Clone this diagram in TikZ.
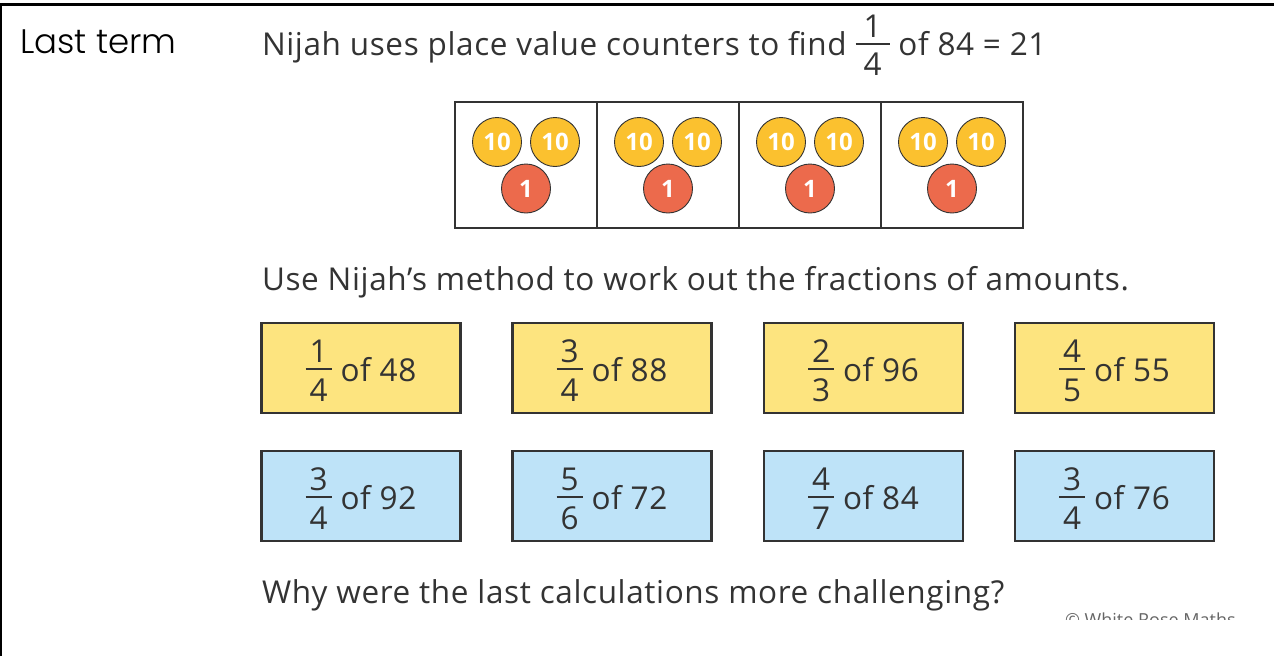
\documentclass[tikz,border=0pt]{standalone}
\usepackage{fontspec}
\setmainfont{Open Sans}[LetterSpace=2]
\IfFontExistsTF{Poppins Light}{\newfontfamily\handfont{Poppins Light}}{\newfontfamily\handfont{Poppins}}
\newfontfamily\plainfont{Open Sans}
\definecolor{txt}{HTML}{333333}
\definecolor{bline}{HTML}{333333}
\definecolor{cyel}{HTML}{FBC12F}
\definecolor{cred}{HTML}{EC6A4C}
\definecolor{byel}{HTML}{FDE47F}
\definecolor{bblue}{HTML}{BEE3F8}
% #1 padding, #2 numerator raise, #3 denominator lower, #4 bar raise, #5 num, #6 den
\newcommand\frg[6]{\begingroup
  \setbox0\hbox{#5}\setbox2\hbox{#6}%
  \dimen0=\wd0 \ifdim\wd2>\dimen0 \dimen0=\wd2\fi
  \advance\dimen0 by #1%
  \hbox to\dimen0{%
    \rlap{\hbox to\dimen0{\hss\raise #2\box0\hss}}%
    \rlap{\hbox to\dimen0{\hss\lower #3\box2\hss}}%
    \rlap{\raise #4\hbox{\vrule width\dimen0 height 2pt depth 0pt}}%
    \hss}%
  \endgroup}
\newcommand\fr[2]{\frg{8pt}{19.7pt}{19.3pt}{11.7pt}{#1}{#2}}
\begin{document}
\begin{tikzpicture}[x=1pt,y=-1pt,
  every node/.style={inner sep=0pt, outer sep=0pt, text=txt},
  main/.style={anchor=base west, font=\fontsize{31.5}{36}\selectfont},
  ten/.style={circle, draw=bline, line width=0.9pt, fill=cyel, minimum size=49pt,
    text=white, font=\plainfont\fontsize{24}{24}\bfseries\selectfont},
  one/.style={ten, fill=cred},
  cellbox/.style={draw=bline, line width=2.5pt, minimum width=142pt, minimum height=126pt},
  qbox/.style={draw=bline, line width=2.5pt, minimum width=199pt, minimum height=90pt,
    text height=47.4pt, text depth=20pt, font=\fontsize{31.5}{36}\selectfont},
  ybox/.style={qbox, fill=byel},
  bbox/.style={qbox, fill=bblue},
]
\useasboundingbox (0,0) rectangle (1274,656);
\draw[line width=2.5pt, black] (1,656) -- (1,4.5) -- (1274,4.5);

\node[anchor=base west, font=\handfont\fontsize{34}{40}\selectfont, text=black] (last) at (20,53) {Last term};

\node[main] (l1) at (262,55) {Nijah uses place value counters to find \frg{16pt}{17.3pt}{20pt}{9.7pt}{1}{4} of 84 = 21};

\foreach \i/\cx in {1/526,2/668,3/810,4/952}{
  \node[cellbox] (c\i) at (\cx,165) {};
  \node[ten] (t\i a) at (\cx-29,142) {10};
  \node[ten] (t\i b) at (\cx+29,142) {10};
  \node[one] (o\i) at (\cx,188.5) {1};
}

\node[main] (l2) at (262,290) {Use Nijah’s method to work out the fractions of amounts.};

\node[ybox] (y1) at (361,368) {\fr{1}{4} of 48};
\node[ybox] (y2) at (612,368) {\fr{3}{4} of 88};
\node[ybox] (y3) at (863.5,368) {\fr{2}{3} of 96};
\node[ybox] (y4) at (1114.5,368) {\fr{4}{5} of 55};

\node[bbox] (b1) at (361,496) {\fr{3}{4} of 92};
\node[bbox] (b2) at (612,496) {\fr{5}{6} of 72};
\node[bbox] (b3) at (863.5,496) {\fr{4}{7} of 84};
\node[bbox] (b4) at (1114.5,496) {\fr{3}{4} of 76};

\node[main] (l3) at (262,603) {Why were the last calculations more challenging?};

\begin{scope}
\clip (1000,600) rectangle (1274,619.5);
\node[anchor=base west, font=\plainfont\fontsize{18}{18}\selectfont, text=black!60] (copy) at (1065,626) {© White Rose Maths};
\end{scope}
\end{tikzpicture}
\end{document}
